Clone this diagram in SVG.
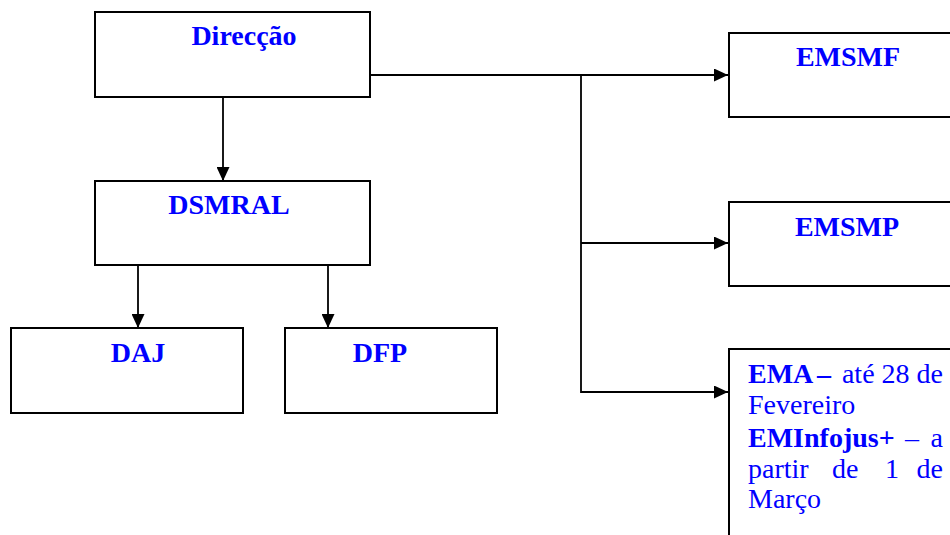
<svg xmlns="http://www.w3.org/2000/svg" width="950" height="535" viewBox="0 0 950 535">
<style>
.box{fill:#fff;stroke:#000;stroke-width:2}
.t{font-family:"Liberation Serif","Times New Roman",serif;font-size:28px;fill:#0000ff}
.b{font-weight:bold}
.c{fill:none;stroke:#000;stroke-width:1.8}
</style>
<defs>
<marker id="ah" markerWidth="14" markerHeight="13" refX="14" refY="6.5" orient="auto" markerUnits="userSpaceOnUse">
<path d="M0,0 L14,6.5 L0,13 Z" fill="#000"/>
</marker>
</defs>
<rect width="950" height="535" fill="#fff"/>
<g id="connectors">
<line class="c" x1="223" y1="97" x2="223" y2="181" marker-end="url(#ah)"/>
<line class="c" x1="138" y1="265" x2="138" y2="328" marker-end="url(#ah)"/>
<line class="c" x1="328" y1="265" x2="328" y2="328" marker-end="url(#ah)"/>
<line class="c" x1="370" y1="75" x2="728" y2="75" marker-end="url(#ah)"/>
<polyline class="c" points="581,75 581,392 728,392" marker-end="url(#ah)"/>
<line class="c" x1="581" y1="243" x2="728" y2="243" marker-end="url(#ah)"/>
</g>
<g id="direccao">
<rect class="box" x="95" y="12" width="275" height="85"/>
<text class="t b" x="244" y="45" text-anchor="middle">Direcção</text>
</g>
<g id="dsmral">
<rect class="box" x="95" y="181" width="275" height="84"/>
<text class="t b" x="229" y="214" text-anchor="middle">DSMRAL</text>
</g>
<g id="daj">
<rect class="box" x="11" y="328" width="232" height="85"/>
<text class="t b" x="138" y="362" text-anchor="middle">DAJ</text>
</g>
<g id="dfp">
<rect class="box" x="285" y="328" width="212" height="85"/>
<text class="t b" x="380" y="362" text-anchor="middle">DFP</text>
</g>
<g id="emsmf">
<rect class="box" x="729" y="33" width="240" height="84"/>
<text class="t b" x="848" y="66" text-anchor="middle">EMSMF</text>
</g>
<g id="emsmp">
<rect class="box" x="729" y="202" width="240" height="84"/>
<text class="t b" x="847" y="236" text-anchor="middle">EMSMP</text>
</g>
<g id="ema">
<rect class="box" x="729" y="349" width="240" height="200"/>
<text class="t b" x="748" y="383">EMA</text>
<text class="t b" x="817" y="383">–</text>
<text class="t" x="943" y="383" text-anchor="end">até 28 de</text>
<text class="t" x="748" y="414">Fevereiro</text>
<text class="t b" x="748" y="447">EMInfojus+</text>
<text class="t" x="905" y="447">–</text>
<text class="t" x="943" y="447" text-anchor="end">a</text>
<text class="t" x="748" y="478">partir</text>
<text class="t" x="832" y="478">de</text>
<text class="t" x="885" y="478">1</text>
<text class="t" x="943" y="478" text-anchor="end">de</text>
<text class="t" x="748" y="508">Março</text>
</g>
</svg>
